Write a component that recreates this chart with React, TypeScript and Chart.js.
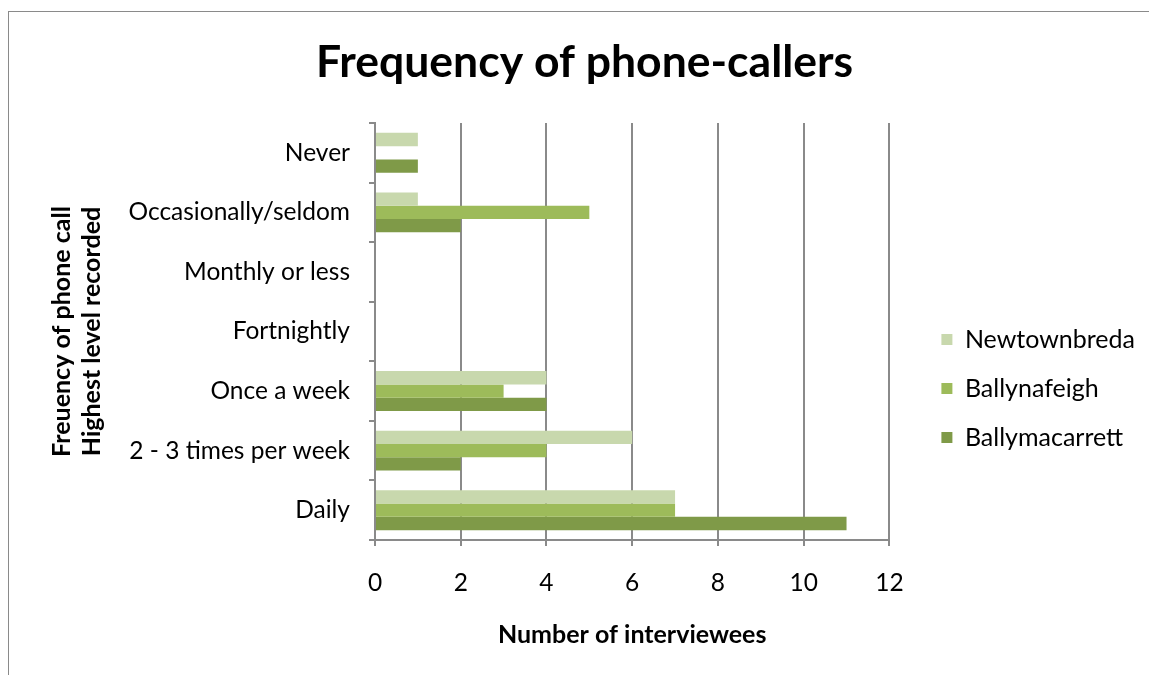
import React, { useEffect, useRef } from "react";
import { Chart, registerables } from "chart.js";

Chart.register(...registerables);

const categories = [
  "Never",
  "Occasionally/seldom",
  "Monthly or less",
  "Fortnightly",
  "Once a week",
  "2 - 3 times per week",
  "Daily",
];
const newtownbreda = [1, 1, 0, 0, 4, 6, 7];
const ballynafeigh = [0, 5, 0, 0, 3, 4, 7];
const ballymacarrett = [1, 2, 0, 0, 4, 2, 11];
const seriesNames = ["Newtownbreda", "Ballynafeigh", "Ballymacarrett"];
const xTicks = [0, 2, 4, 6, 8, 10, 12];

const COLORS = ["#c8d8ad", "#9dbb5a", "#7f9a48"];
const GRID = "#8a8a8a";
const FONT = "Lato";
const SIDE_PAD = 43;
const Y_AXIS_WIDTH = 323;
const X_AXIS_HEIGHT = 135;
const LEGEND_DX = 28;
const LEGEND_DY = 45;

const legendShift = {
  id: "legendShift",
  afterLayout(chart: any) {
    const l = chart.legend;
    if (!l) return;
    l.left += LEGEND_DX;
    l.right += LEGEND_DX;
    l.top += LEGEND_DY;
    l.bottom += LEGEND_DY;
  },
};

export default function App() {
  const ref = useRef<HTMLCanvasElement | null>(null);
  useEffect(() => {
    if (!ref.current) return;
    const chart = new Chart(ref.current, {
      type: "bar",
      data: {
        labels: categories,
        datasets: [newtownbreda, ballynafeigh, ballymacarrett].map((d, i) => ({
          label: seriesNames[i],
          data: d,
          backgroundColor: COLORS[i],
          borderWidth: 0,
          categoryPercentage: 0.67,
          barPercentage: 1,
        })),
      },
      options: {
        indexAxis: "y",
        animation: false,
        responsive: false,
        devicePixelRatio: 1,
        layout: { padding: { left: SIDE_PAD, right: SIDE_PAD, top: 0, bottom: 0 } },
        plugins: {
          title: {
            display: true,
            text: "Frequency of phone-callers",
            color: "#000",
            font: { family: FONT, size: 44.5, weight: "bold", lineHeight: 1.2 },
            padding: { top: 24.3, bottom: 33.3 },
          },
          legend: {
            display: true,
            position: "right",
            align: "center",
            labels: {
              color: "#000",
              font: { family: FONT, size: 25 },
              boxWidth: 11,
              boxHeight: 11,
              padding: 24,
            },
          },
          tooltip: { enabled: false },
        },
        scales: {
          y: {
            type: "category",
            afterFit: (scale: any) => {
              scale.width = Y_AXIS_WIDTH;
            },
            grid: {
              display: true,
              drawOnChartArea: false,
              drawTicks: true,
              tickLength: 6,
              color: GRID,
              lineWidth: 2,
              offset: true,
            },
            border: { display: true, color: GRID, width: 2 },
            ticks: {
              color: "#000",
              font: { family: FONT, size: 24.5 },
              padding: 19,
            },
            title: {
              display: true,
              text: ["Freuency of phone call", "Highest level recorded"],
              color: "#000",
              font: { family: FONT, size: 25, weight: "bold", lineHeight: 1.2 },
              padding: { top: -5, bottom: 0 },
            },
          },
          x: {
            type: "linear",
            min: xTicks[0],
            max: xTicks[xTicks.length - 1],
            afterBuildTicks: (scale: any) => {
              scale.ticks = xTicks.map((v) => ({ value: v }));
            },
            afterFit: (scale: any) => {
              scale.height = X_AXIS_HEIGHT;
            },
            grid: {
              display: true,
              color: GRID,
              lineWidth: 2,
              drawTicks: true,
              tickLength: 6,
            },
            border: { display: true, color: GRID, width: 2 },
            ticks: {
              color: "#000",
              font: { family: FONT, size: 24.5 },
              padding: 22,
              maxRotation: 0,
            },
            title: {
              display: true,
              text: "Number of interviewees",
              color: "#000",
              font: { family: FONT, size: 25, weight: "bold", lineHeight: 1.2 },
              padding: { top: 0, bottom: 25 },
            },
          },
        },
      },
      plugins: [legendShift],
    } as any);
    return () => chart.destroy();
  }, []);

  return (
    <div
      style={{
        position: "fixed",
        left: 0,
        top: 0,
        width: 1149,
        height: 675,
        overflow: "hidden",
        background: "#fff",
      }}
    >
      <div
        style={{
          position: "absolute",
          left: 8,
          top: 11,
          width: 1160,
          height: 700,
          border: "1px solid #8a8a8a",
          boxSizing: "border-box",
        }}
      >
        <canvas
          ref={ref}
          width={1151}
          height={663}
          style={{ display: "block", width: 1151, height: 663 }}
        />
      </div>
    </div>
  );
}
